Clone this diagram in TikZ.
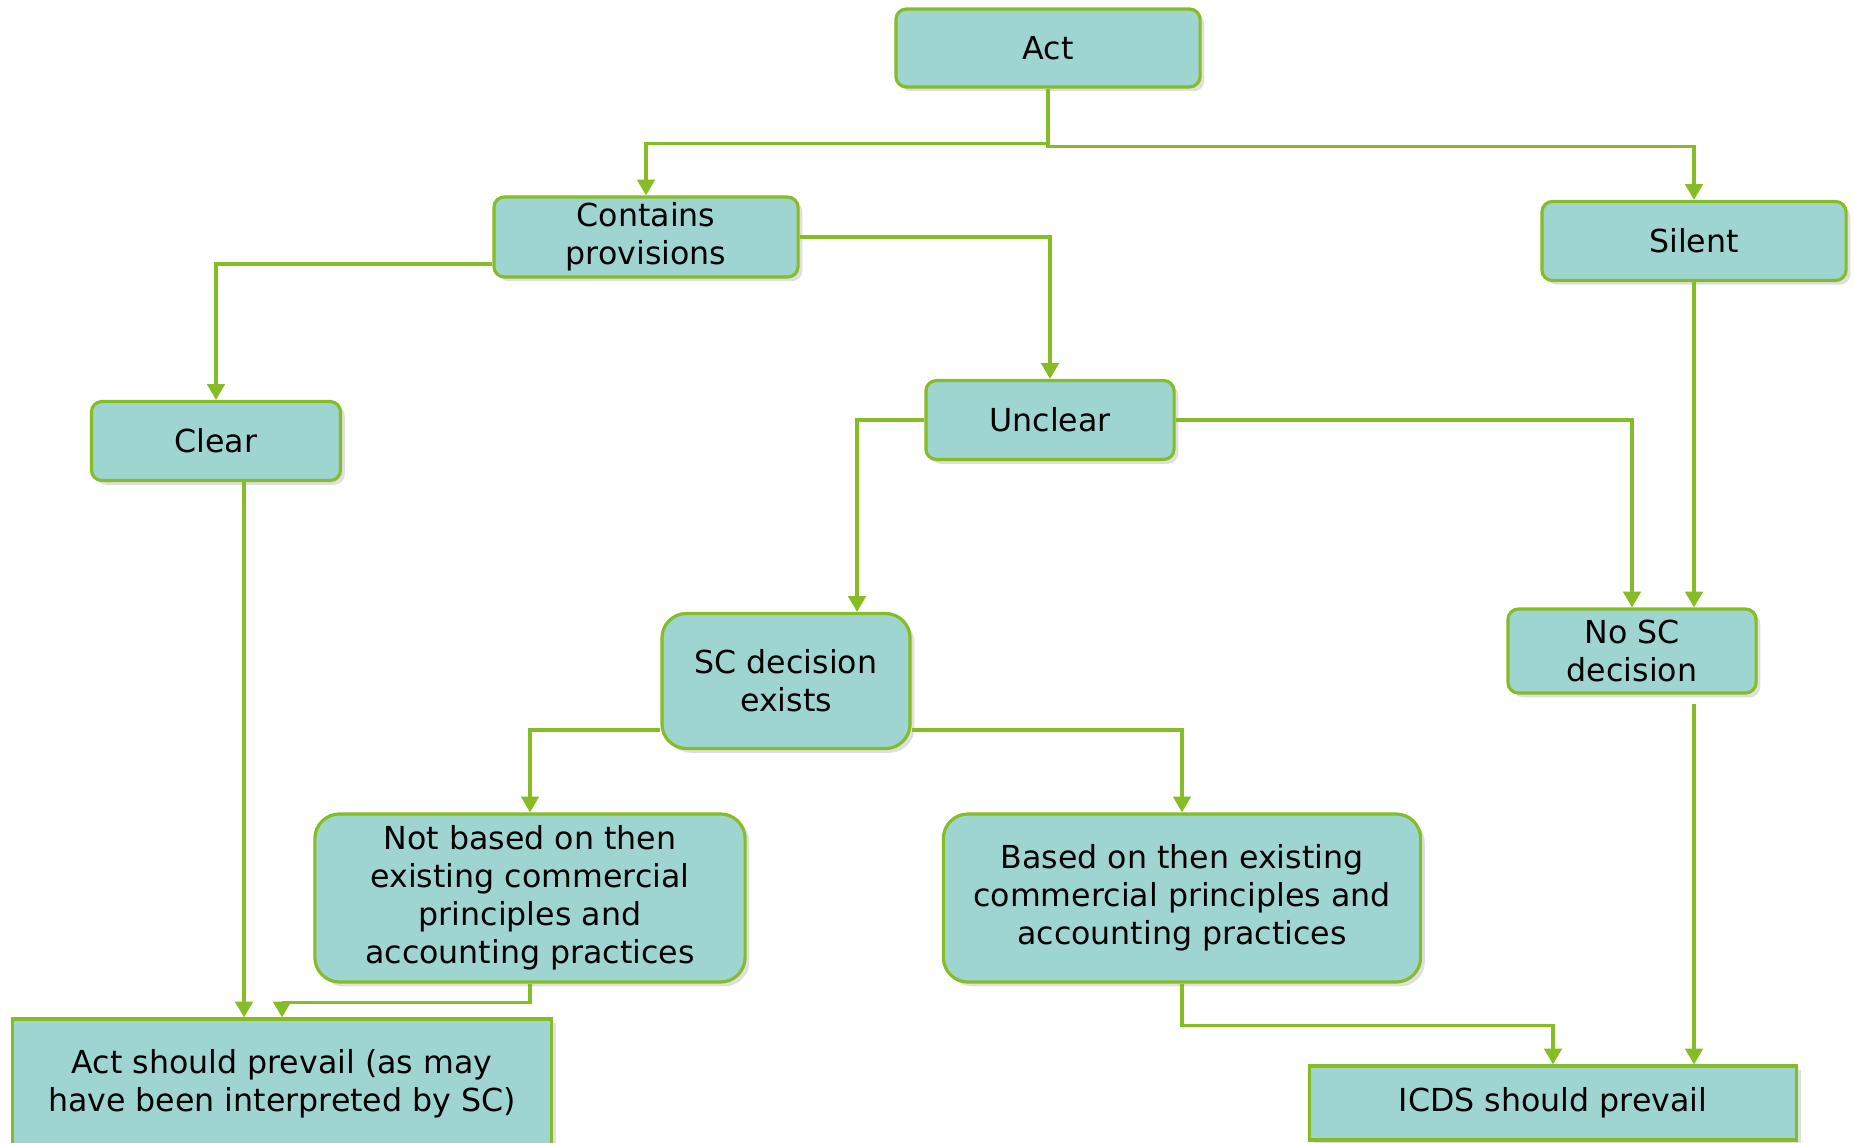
\documentclass[tikz,border=0pt]{standalone}
\usepackage{fontspec}
\setmainfont{DejaVu Sans}
\usetikzlibrary{arrows.meta,shadows}
\definecolor{boxfill}{HTML}{9ED5D0}
\definecolor{boxline}{HTML}{86BC25}

\begin{document}
\begin{tikzpicture}[x=0.01cm, y=-0.01cm, >={Triangle[width=5pt,length=4.5pt]},
  every box/.style={draw=boxline, fill=boxfill, line width=0.9pt, align=center,
    inner sep=0pt, font=\fontsize{9}{10.8}\selectfont,
    drop shadow={opacity=0.25, shadow xshift=1.2pt, shadow yshift=-1.2pt}},
  small box/.style={every box, rounded corners=3pt},
  big box/.style={every box, rounded corners=7pt},
  end box/.style={every box},
  link/.style={draw=boxline, line width=0.9pt, ->}]

  \useasboundingbox (0,0) rectangle (1854,1142);
  \clip (0,0) rectangle (1854,1142);

  \node [small box, minimum width=3.04cm, minimum height=0.78cm] (act) at (1048,48) {Act};
  \node [small box, minimum width=3.04cm, minimum height=0.80cm] (prov) at (646,237) {Contains\\provisions};
  \node [small box, minimum width=3.04cm, minimum height=0.79cm] (silent) at (1694,241) {Silent};
  \node [small box, minimum width=2.49cm, minimum height=0.79cm] (clear) at (216,441) {Clear};
  \node [small box, minimum width=2.48cm, minimum height=0.79cm] (unclear) at (1050,420) {Unclear};
  \node [big box, minimum width=2.48cm, minimum height=1.35cm] (scdec) at (786,681) {SC decision\\exists};
  \node [small box, minimum width=2.48cm, minimum height=0.84cm] (nosc) at (1632,651) {No SC\\decision};
  \node [big box, minimum width=4.30cm, minimum height=1.68cm] (notbased) at (530,898)
    {Not based on then\\existing commercial\\principles and\\accounting practices};
  \node [big box, minimum width=4.77cm, minimum height=1.68cm] (based) at (1182,898)
    {Based on then existing\\commercial principles and\\accounting practices};
  \node [end box, minimum width=5.39cm, minimum height=1.60cm] (actprev) at (282,1099)
    {\raisebox{5.8mm}{\begin{tabular}{@{}c@{}}Act should prevail (as may\\have been interpreted by SC)\end{tabular}}};
  \node [end box, minimum width=4.87cm, minimum height=0.74cm] (icds) at (1553,1103) {ICDS should prevail};

  \draw [link] (act.south) -- ++(0,55) -| (prov.north);
  \draw [link] (act.south) -- ++(0,58) -| (silent.north);
  \draw [link] ([yshift=-2.7mm]prov.west) -| (clear.north);
  \draw [link] (prov.east) -| (unclear.north);
  \draw [link] (unclear.west) -| ([xshift=7.1mm]scdec.north);
  \draw [link] (unclear.east) -| (nosc.north);
  \draw [link] (silent.south) -- (silent.south |- nosc.north);
  \draw [link] ([yshift=-0.9mm]nosc.south -| silent.south) -- (silent.south |- icds.north);
  \draw [link] ([yshift=-4.9mm]scdec.west) -| (notbased.north);
  \draw [link] ([yshift=-4.9mm]scdec.east) -| (based.north);
  \draw [link] ([xshift=2.8mm]clear.south) -- ([xshift=2.8mm]clear.south |- actprev.north);
  \draw [link] (notbased.south) -- ++(0,19) -| (actprev.north);
  \draw [link] (based.south) -- ++(0,42) -| (icds.north);

\end{tikzpicture}
\end{document}
